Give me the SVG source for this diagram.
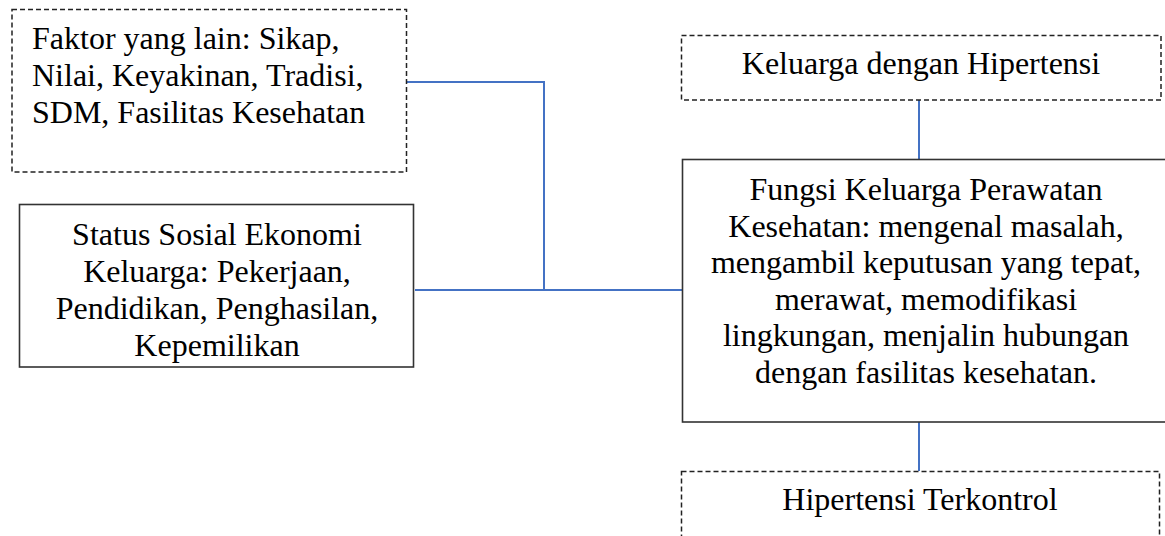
<svg xmlns="http://www.w3.org/2000/svg" width="1165" height="536" viewBox="0 0 1165 536">
<style>
.t{font-family:"Liberation Serif","Times New Roman",serif;font-size:32px;fill:#000}
.c{text-anchor:middle}
.dash{fill:#fff;stroke:#222;stroke-width:1.5;stroke-dasharray:5 3}
.solid{fill:#fff;stroke:#333;stroke-width:1.6}
.conn{fill:none;stroke:#4472C4;stroke-width:2}
</style>
<rect width="1165" height="536" fill="#fff"/>
<g id="connectors">
<polyline class="conn" points="406,82 544,82 544,290"/>
<line class="conn" x1="415" y1="290" x2="682" y2="290"/>
<line class="conn" x1="919" y1="100" x2="919" y2="159"/>
<line class="conn" x1="919" y1="422" x2="919" y2="471"/>
</g>
<g id="faktor">
<rect class="dash" x="12" y="9.5" width="394.5" height="162.5"/>
<text class="t" x="32" y="49">Faktor yang lain: Sikap,</text>
<text class="t" x="32" y="86">Nilai, Keyakinan, Tradisi,</text>
<text class="t" x="32" y="123">SDM, Fasilitas Kesehatan</text>
</g>
<g id="status">
<rect class="solid" x="19.5" y="204.5" width="394" height="162.5"/>
<text class="t c" x="217" y="245">Status Sosial Ekonomi</text>
<text class="t c" x="217" y="282">Keluarga: Pekerjaan,</text>
<text class="t c" x="217" y="319">Pendidikan, Penghasilan,</text>
<text class="t c" x="217" y="356">Kepemilikan</text>
</g>
<g id="keluarga">
<rect class="dash" x="681.5" y="35.5" width="479.5" height="64.5"/>
<text class="t c" x="921" y="74">Keluarga dengan Hipertensi</text>
</g>
<g id="fungsi">
<rect class="solid" x="682.5" y="159.5" width="492" height="262.5"/>
<text class="t c" x="926" y="200">Fungsi Keluarga Perawatan</text>
<text class="t c" x="926" y="237">Kesehatan: mengenal masalah,</text>
<text class="t c" x="926" y="273">mengambil keputusan yang tepat,</text>
<text class="t c" x="926" y="310">merawat, memodifikasi</text>
<text class="t c" x="926" y="346">lingkungan, menjalin hubungan</text>
<text class="t c" x="926" y="383">dengan fasilitas kesehatan.</text>
</g>
<g id="terkontrol">
<rect class="dash" x="681.5" y="471.5" width="478" height="80"/>
<text class="t c" x="920" y="510">Hipertensi Terkontrol</text>
</g>
</svg>
